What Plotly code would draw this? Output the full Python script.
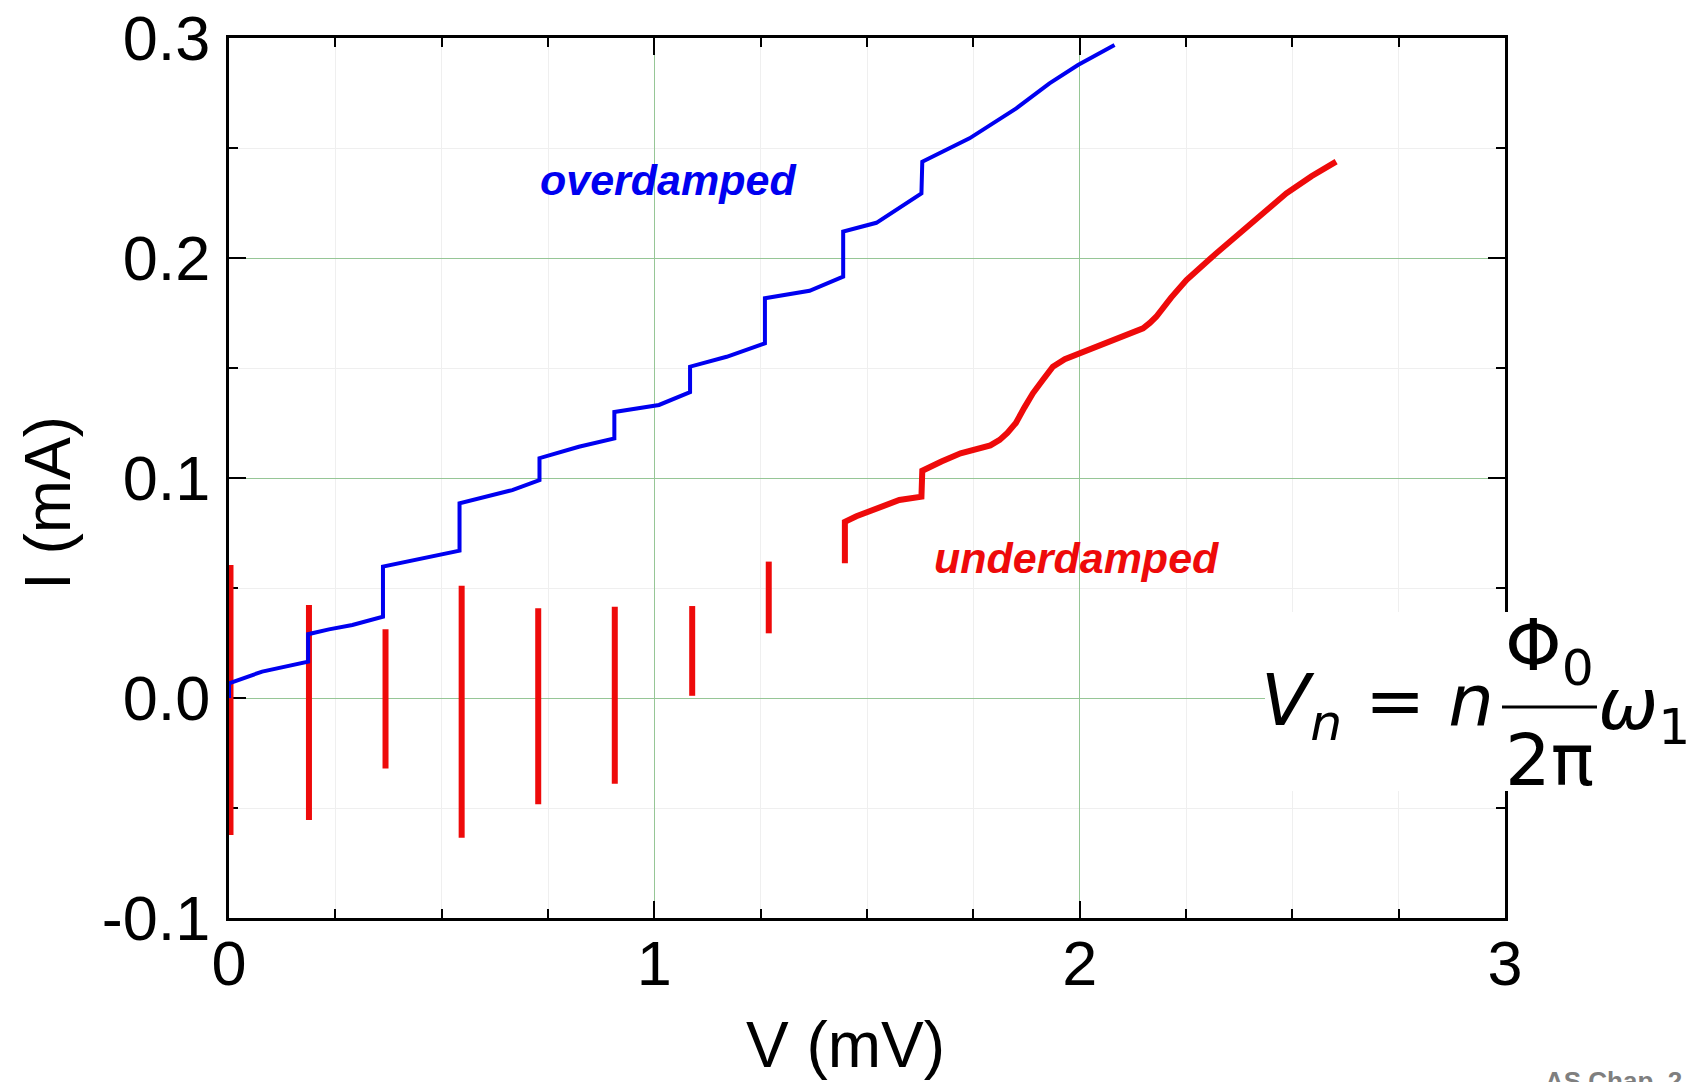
import plotly.graph_objects as go

# ---------------- data ----------------
blue_v = [0.0, 0.0, 0.078, 0.186, 0.186, 0.235, 0.29, 0.362, 0.362, 0.542, 0.542,
          0.666, 0.730, 0.730, 0.8225, 0.906, 0.906, 1.011, 1.084, 1.084, 1.17,
          1.26, 1.26, 1.365, 1.444, 1.444, 1.522, 1.628, 1.630, 1.741, 1.851,
          1.929, 1.996, 2.082]
blue_i = [0.0, 0.0067, 0.012, 0.0165, 0.029, 0.0312, 0.0332, 0.037, 0.0597, 0.067,
          0.0885, 0.0945, 0.099, 0.109, 0.1142, 0.118, 0.130, 0.1332, 0.139,
          0.1506, 0.1551, 0.1612, 0.1817, 0.1851, 0.1915, 0.212, 0.216, 0.2294,
          0.2438, 0.2544, 0.268, 0.2794, 0.2877, 0.2968]

bar_v = [0.0035, 0.188, 0.368, 0.547, 0.727, 0.907, 1.089, 1.269]
bar_top = [0.0605, 0.0423, 0.0312, 0.051, 0.0408, 0.0415, 0.0418, 0.062]
bar_bot = [-0.0623, -0.0555, -0.032, -0.0635, -0.0483, -0.039, 0.001, 0.0294]

red_v = [1.448, 1.448, 1.475, 1.504, 1.540, 1.576, 1.628, 1.630, 1.675, 1.72,
         1.79, 1.812, 1.830, 1.850, 1.870, 1.890, 1.915, 1.937, 1.965, 1.996,
         2.071, 2.149, 2.165, 2.180, 2.215, 2.251, 2.321, 2.407, 2.450, 2.486,
         2.545, 2.603]
red_i = [0.0612, 0.0801, 0.0826, 0.0847, 0.0877, 0.090, 0.0915, 0.1033, 0.1075,
         0.1112, 0.1148, 0.1173, 0.1205, 0.1250, 0.1320, 0.1385, 0.1450, 0.1506,
         0.1540, 0.1564, 0.162, 0.168, 0.1705, 0.1733, 0.1820, 0.190, 0.2021,
         0.2165, 0.2232, 0.2294, 0.2372, 0.2438]

x_tickvals = [0, 1, 2, 3]
x_ticktext = ["0", "1", "2", "3"]
y_tickvals = [-0.1, 0.0, 0.1, 0.2, 0.3]
y_ticktext = ["-0.1", "0.0", "0.1", "0.2", "0.3"]

# ---------------- figure ----------------
W, H = 1703, 1082
L, R, T, B = 229, 198, 38, 164
PW, PH = W - L - R, H - T - B


def px(xpix):
    return (xpix - L) / PW


def py(ypix):
    return (H - B - ypix) / PH


BLUE = "#0000f0"
RED = "#ee0a0a"

fig = go.Figure()

# red vertical bars (supercurrent branches)
bx, by = [], []
for v, t, b in zip(bar_v, bar_top, bar_bot):
    bx += [v, v, None]
    by += [b, t, None]
fig.add_trace(go.Scatter(x=bx, y=by, mode="lines",
                         line=dict(color=RED, width=6), hoverinfo="skip"))

# underdamped curve
fig.add_trace(go.Scatter(x=red_v, y=red_i, mode="lines",
                         line=dict(color=RED, width=6)))

# overdamped curve
fig.add_trace(go.Scatter(x=blue_v, y=blue_i, mode="lines",
                         line=dict(color=BLUE, width=4)))

axis_common = dict(
    ticks="inside", ticklen=17, tickwidth=2, tickcolor="black",
    showline=True, linewidth=3, linecolor="black", mirror="allticks",
    showgrid=True, gridcolor="#96c696", gridwidth=1, zeroline=False,
    tickfont=dict(family="Liberation Sans, Arial, sans-serif", size=63, color="black"),
    layer="below traces", automargin=False,
)

fig.update_xaxes(range=[0, 3], tickmode="array", tickvals=x_tickvals,
                 ticktext=x_ticktext, ticklabelstandoff=-12,
                 minor=dict(tickmode="linear", tick0=0, dtick=0.25, ticks="inside",
                            ticklen=9, tickwidth=2, tickcolor="black",
                            showgrid=True, gridcolor="#efefef", gridwidth=1),
                 **axis_common)
fig.update_yaxes(range=[-0.1, 0.3], tickmode="array", tickvals=y_tickvals,
                 ticktext=y_ticktext, ticklabelstandoff=3,
                 minor=dict(tickmode="linear", tick0=0, dtick=0.05, ticks="inside",
                            ticklen=9, tickwidth=2, tickcolor="black",
                            showgrid=True, gridcolor="#efefef", gridwidth=1),
                 **axis_common)

FONT = "Liberation Sans, Arial, sans-serif"
EQF = "DejaVu Sans, sans-serif"
ann = []
# axis titles
ann.append(dict(text="V (mV)", x=px(845), y=py(1045), xref="paper", yref="paper",
                xanchor="center", yanchor="middle",
                showarrow=False, font=dict(family=FONT, size=64, color="black")))
ann.append(dict(text="I (mA)", x=px(48), y=py(503), xref="paper", yref="paper",
                xanchor="center", yanchor="middle",
                showarrow=False, textangle=-90,
                font=dict(family=FONT, size=64, color="black")))
# curve labels
ann.append(dict(text="<b><i>overdamped</i></b>", x=1.033, y=0.2355, xref="x", yref="y",
                xanchor="center", yanchor="middle",
                showarrow=False, font=dict(family=FONT, size=43, color=BLUE)))
ann.append(dict(text="<b><i>underdamped</i></b>", x=1.992, y=0.0636, xref="x", yref="y",
                xanchor="center", yanchor="middle",
                showarrow=False, font=dict(family=FONT, size=43, color=RED)))
# equation  V_n = n Phi0/(2 pi) omega_1
EQS = 72
ann.append(dict(text="<i>V</i><sub><i>n</i></sub> = <i>n</i>", x=px(1496), y=py(705),
                xref="paper", yref="paper", xanchor="right", yanchor="middle",
                showarrow=False, font=dict(family=EQF, size=EQS, color="black")))
ann.append(dict(text="Φ<sub>0</sub>", x=px(1549), y=py(650),
                xref="paper", yref="paper", xanchor="center", yanchor="middle",
                showarrow=False, font=dict(family=EQF, size=EQS, color="black")))
ann.append(dict(text="2π", x=px(1549), y=py(760),
                xref="paper", yref="paper", xanchor="center", yanchor="middle",
                showarrow=False, font=dict(family=EQF, size=EQS, color="black")))
ann.append(dict(text="<i>ω</i><sub>1</sub>", x=px(1596), y=py(709),
                xref="paper", yref="paper", xanchor="left", yanchor="middle",
                showarrow=False, font=dict(family=EQF, size=EQS, color="black")))
# footer
ann.append(dict(text="<b>AS Chap. 2</b>", x=px(1543), y=py(1064),
                xref="paper", yref="paper", xanchor="left", yanchor="top",
                showarrow=False, font=dict(family=FONT, size=26, color="#7f7f7f")))

shapes = [
    dict(type="rect", xref="paper", yref="paper", x0=px(1265), x1=px(1710),
         y0=py(791), y1=py(612), fillcolor="white", line=dict(width=0), layer="above"),
    dict(type="line", xref="paper", yref="paper", x0=px(1502), x1=px(1597),
         y0=py(707), y1=py(707), line=dict(color="black", width=3), layer="above"),
]

fig.update_layout(width=W, height=H, margin=dict(l=L, r=R, t=T, b=B, autoexpand=False),
                  plot_bgcolor="white", paper_bgcolor="white", showlegend=False,
                  annotations=ann, shapes=shapes)

fig.write_html("out.html")
